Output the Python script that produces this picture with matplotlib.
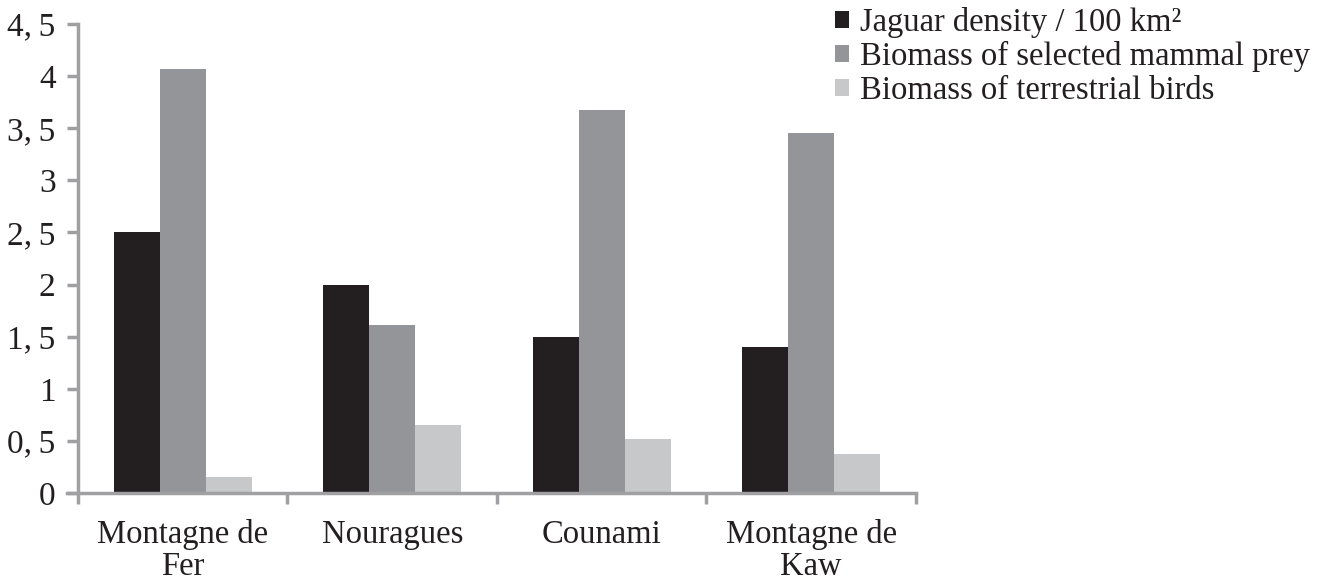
import numpy as np
import matplotlib
matplotlib.use("Agg")
from matplotlib import pyplot as plt

sites = ["Montagne de\nFer", "Nouragues", "Counami", "Montagne de\nKaw"]
jaguar_density = [2.5, 2.0, 1.5, 1.4]
mammal_biomass = [4.07, 1.61, 3.67, 3.45]
bird_biomass = [0.15, 0.65, 0.52, 0.37]
series_labels = ["Jaguar density / 100 km\u00b2",
                 "Biomass of selected mammal prey",
                 "Biomass of terrestrial birds"]
yticks = [0, 0.5, 1, 1.5, 2, 2.5, 3, 3.5, 4, 4.5]

plt.rcParams['font.family'] = ['Liberation Serif', 'DejaVu Serif']

fig = plt.figure(figsize=(13.17, 5.82), dpi=100)
ax = fig.add_axes([0.0592, 0.1529, 0.6363, 0.8059])

x = np.arange(len(sites))
w = 0.22
colors = ["#231f20", "#939598", "#c7c8ca"]
for i, (vals, lab) in enumerate(zip([jaguar_density, mammal_biomass, bird_biomass], series_labels)):
    ax.bar(x + (i - 1) * w, vals, w, color=colors[i], label=lab)

ax.set_xlim(-0.5, len(sites) - 0.5)
ax.set_ylim(0, 4.5)
ax.set_yticks(yticks)
ax.set_yticklabels([("%g" % v).replace(".", ",\u2009") for v in yticks])
ax.set_xticks(x)
ax.set_xticklabels(sites, linespacing=1.05)
ax.set_xticks(np.arange(len(sites) + 1) - 0.5, minor=True)

for s in ["top", "right"]:
    ax.spines[s].set_visible(False)
for s in ["left", "bottom"]:
    ax.spines[s].set_color("#a0a0a2")
    ax.spines[s].set_linewidth(2.5)
ax.spines["bottom"].set_bounds(-0.55, len(sites) - 0.5)

ax.tick_params(axis="y", length=8, width=2.5, color="#a0a0a2", labelsize=24, pad=8, labelcolor="#231f20")
ax.tick_params(axis="x", which="major", length=0, labelsize=23.5, pad=19, labelcolor="#231f20")
ax.tick_params(axis="x", which="minor", length=8, width=2.5, color="#a0a0a2")

fig.legend(loc="upper left", bbox_to_anchor=(835 / 1317, 1 - 7 / 582), frameon=False,
           fontsize=23.5, handlelength=0.42, handleheight=0.42, handletextpad=0.35,
           labelspacing=0.1, borderaxespad=0, borderpad=0, labelcolor="#231f20")

fig.savefig("out.png", dpi=100)
